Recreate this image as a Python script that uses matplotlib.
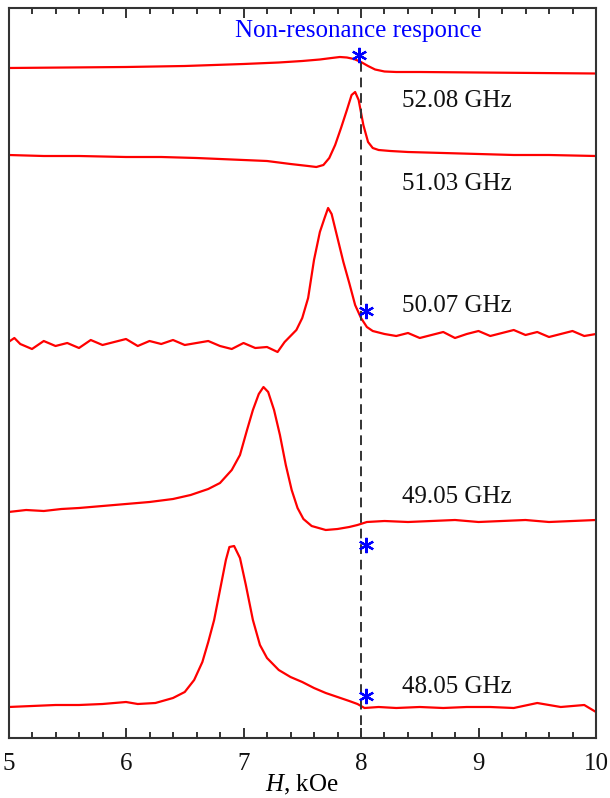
import matplotlib
matplotlib.use("Agg")
import matplotlib.pyplot as plt
from matplotlib.ticker import MultipleLocator

plt.rcParams['font.family'] = ['Liberation Serif', 'DejaVu Serif']
plt.rcParams['mathtext.fontset'] = 'custom'
plt.rcParams['mathtext.it'] = 'Liberation Serif:italic'
plt.rcParams['mathtext.rm'] = 'Liberation Serif'

# Field H (kOe) and signal (arbitrary units, read top-down as screen offsets)
h_nonres = [5.0, 5.5, 6.0, 6.5, 7.0, 7.3, 7.5, 7.65, 7.75, 7.82, 7.88, 7.94, 8.0, 8.06, 8.12, 8.2, 8.3, 8.5, 9.0, 9.5, 10.0]
s_nonres = [68, 67.5, 67, 66, 64, 62.5, 61, 59.5, 58, 57, 57.5, 59, 62, 66, 69.5, 71.5, 72, 72, 72.5, 73, 73.5]

h_5208 = [5.0, 5.3, 5.6, 6.0, 6.3, 6.6, 7.0, 7.2, 7.4, 7.55, 7.62, 7.68, 7.73, 7.78, 7.83, 7.88, 7.92, 7.95, 7.98, 8.02, 8.06, 8.1, 8.15, 8.25, 8.4, 8.7, 9.0, 9.3, 9.6, 10.0]
s_5208 = [155, 156, 156, 157, 157, 158, 160, 161, 164, 166, 167, 165, 158, 145, 128, 110, 95, 92, 100, 125, 142, 148, 150, 151, 152, 153, 154, 155, 155, 156]

h_5007 = [5.0, 5.05, 5.1, 5.2, 5.3, 5.4, 5.5, 5.6, 5.7, 5.8, 5.9, 6.0, 6.1, 6.2, 6.3, 6.4, 6.5, 6.6, 6.7, 6.8, 6.9, 7.0, 7.1, 7.2, 7.29,
          7.35, 7.4, 7.45, 7.5, 7.55, 7.6, 7.65, 7.69, 7.72, 7.75, 7.8, 7.85, 7.9, 7.95, 8.0, 8.05, 8.1, 8.2, 8.3, 8.4, 8.5, 8.6, 8.7,
          8.8, 8.9, 9.0, 9.1, 9.2, 9.3, 9.4, 9.5, 9.6, 9.7, 9.8, 9.9, 10.0]
s_5007 = [342, 338, 344, 349, 341, 346, 343, 348, 340, 345, 342, 339, 346, 341, 344, 340, 345, 343, 341, 346, 349, 343, 348, 347, 352,
          342, 336, 330, 318, 298, 260, 232, 218, 208, 214, 238, 262, 283, 305, 318, 327, 331, 334, 336, 333, 338, 335, 332, 338,
          334, 331, 336, 333, 330, 335, 332, 337, 334, 331, 336, 334]

h_4905 = [5.0, 5.15, 5.3, 5.45, 5.6, 5.8, 6.0, 6.2, 6.4, 6.55, 6.7, 6.8, 6.9, 6.97, 7.03, 7.08, 7.13, 7.17, 7.21, 7.26, 7.31, 7.36,
          7.41, 7.46, 7.51, 7.58, 7.7, 7.8, 7.9, 7.97, 8.05, 8.2, 8.4, 8.6, 8.8, 9.0, 9.2, 9.4, 9.6, 9.8, 10.0]
s_4905 = [512, 510, 511, 509, 508, 506, 504, 502, 499, 495, 489, 483, 470, 455, 430, 410, 394, 387, 392, 410, 435, 465, 490, 508,
          519, 526, 530, 529, 527, 525, 522, 521, 522, 521, 520, 522, 521, 520, 522, 521, 520]

h_4805 = [5.0, 5.2, 5.4, 5.6, 5.8, 6.0, 6.1, 6.25, 6.4, 6.5, 6.58, 6.65, 6.7, 6.75, 6.8, 6.85, 6.88, 6.92, 6.97, 7.02, 7.08, 7.14,
          7.2, 7.3, 7.4, 7.5, 7.6, 7.7, 7.8, 7.9, 7.97, 8.03, 8.15, 8.3, 8.5, 8.7, 8.9, 9.1, 9.3, 9.5, 9.7, 9.9, 10.0]
s_4805 = [707, 706, 705, 705, 704, 702, 704, 703, 698, 692, 680, 662, 642, 620, 590, 560, 547, 546, 558, 585, 620, 645,
          658, 670, 677, 682, 688, 693, 697, 701, 704, 708, 707, 708, 707, 708, 707, 707, 708, 703, 707, 705, 712]

freq_labels = ["52.08 GHz", "51.03 GHz", "50.07 GHz", "49.05 GHz", "48.05 GHz"]
label_y = [101, 184, 306, 497, 687]

star_h = [7.98, 8.04, 8.04, 8.04]
star_s = [55, 311, 545, 696]

fig = plt.figure(figsize=(6.10, 7.98), dpi=100)
ax = fig.add_axes([8.5/610, 1 - 738/798, (596 - 8.5)/610, (738 - 7.5)/798])

red = '#ff0000'
for h, s in [(h_nonres, s_nonres), (h_5208, s_5208), (h_5007, s_5007), (h_4905, s_4905), (h_4805, s_4805)]:
    ax.plot(h, s, color=red, lw=1.6)

ax.plot([8, 8], [62, 738], color='#333333', lw=1.4, ls=(0, (5, 3)))

for lab, y in zip(freq_labels, label_y):
    ax.text(8.35, y, lab, fontsize=18, color='#111111', va='center', ha='left')

ax.text(7.98, 31, "Non-resonance responce", fontsize=18, color='#0000ff', va='center', ha='center')

ax.plot(star_h, star_s, ls='none', marker=(6, 2, 0), ms=11, mew=1.6, color='#0000ff')

ax.set_xlim(5, 10)
ax.set_ylim(738, 7.5)
ax.xaxis.set_major_locator(MultipleLocator(1))
ax.xaxis.set_minor_locator(MultipleLocator(0.2))
ax.tick_params(axis='x', which='both', direction='in', top=True, bottom=True, labelsize=18, pad=11, colors='#111111')
ax.tick_params(axis='x', which='major', length=7, width=1.2)
ax.tick_params(axis='x', which='minor', length=4.5, width=1.2)
ax.tick_params(axis='y', which='both', left=False, right=False, labelleft=False)
for sp in ax.spines.values():
    sp.set_linewidth(1.5)
    sp.set_color('#333333')
ax.set_xlabel("$H$, kOe", fontsize=18, labelpad=-2)

fig.savefig("out.png", dpi=100)
